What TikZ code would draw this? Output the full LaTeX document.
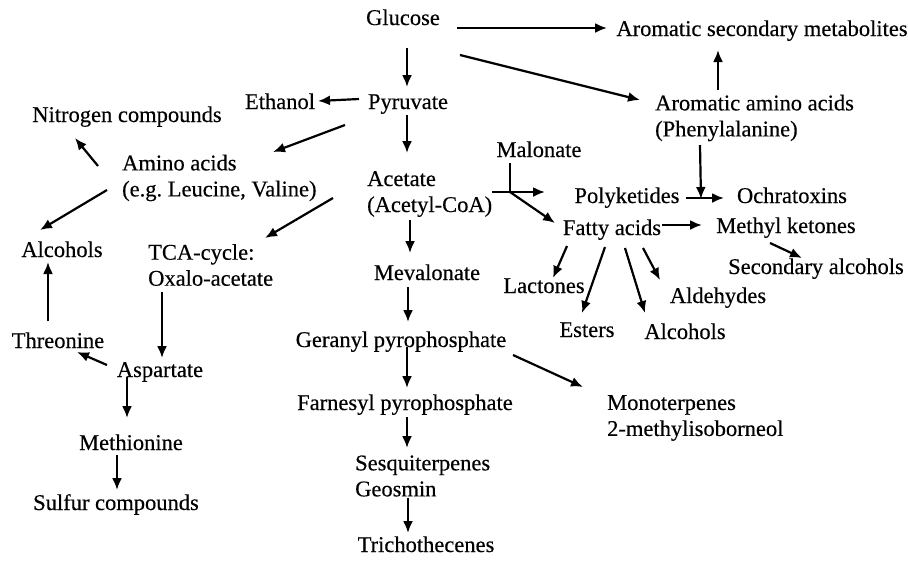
\documentclass[tikz,border=0pt]{standalone}
\usepackage{fontspec}
\setmainfont{Liberation Serif}[FakeBold=0.35]
\usetikzlibrary{arrows.meta}
\begin{document}
\frenchspacing
\begin{tikzpicture}[x=1pt,y=-1pt,
  lbl/.style={font=\fontsize{22.5}{26}\selectfont, inner sep=0pt, text height=15pt, text depth=5pt},
  ml/.style={font=\fontsize{22.5}{26}\selectfont, inner sep=0pt, align=left, anchor=west},
  arr/.style={line width=2.2pt, -{Latex[length=12pt,width=10pt]}},
  ln/.style={line width=2.2pt}]
\fill[white] (0,0) rectangle (908,563);
\useasboundingbox (0,0) rectangle (908,563);
% nodes
\node[lbl] (glu) at (403,20) {Glucose};
\node[lbl] (asm) at (762,31) {Aromatic secondary metabolites};
\node[lbl] (pyr) at (408,104) {Pyruvate};
\node[lbl] (eth) at (280,104) {Ethanol};
\node[lbl] (nit) at (127,117) {Nitrogen compounds};
\node[ml] (amino) at (122,178) {Amino acids\\(e.g.\ Leucine, Valine)};
\node[ml] (acet) at (367,194) {Acetate\\(Acetyl-CoA)};
\node[ml] (aaa) at (655,118) {Aromatic amino acids\\(Phenylalanine)};
\node[lbl] (mal) at (539,152) {Malonate};
\node[lbl] (poly) at (627,198) {Polyketides};
\node[lbl] (ochra) at (792,198) {Ochratoxins};
\node[lbl] (fatty) at (612,230) {Fatty acids};
\node[lbl] (mk) at (786,228) {Methyl ketones};
\node[lbl] (sa) at (816,269) {Secondary alcohols};
\node[lbl] (alcL) at (62,252) {Alcohols};
\node[ml] (tca) at (148,265) {TCA-cycle:\\Oxalo-acetate};
\node[lbl] (mev) at (427,275) {Mevalonate};
\node[lbl] (lact) at (544,288) {Lactones};
\node[lbl] (ald) at (718,298) {Aldehydes};
\node[lbl] (est) at (587,332) {Esters};
\node[lbl] (alcR) at (685,334) {Alcohols};
\node[lbl] (thr) at (58,343) {Threonine};
\node[lbl] (ger) at (401,342) {Geranyl pyrophosphate};
\node[lbl] (asp) at (160,372) {Aspartate};
\node[lbl] (far) at (405,405) {Farnesyl pyrophosphate};
\node[ml] (mono) at (607,418) {Monoterpenes\\2-methylisoborneol};
\node[lbl] (meth) at (131,445) {Methionine};
\node[ml] (sesq) at (355,476) {Sesquiterpenes\\Geosmin};
\node[lbl] (sulf) at (116,505) {Sulfur compounds};
\node[lbl] (tri) at (426,547) {Trichothecenes};
\coordinate (j1) at (510,192);
\coordinate (j2) at (701,199);
% connectors
\draw[arr] ([shift={(54,8)}]glu.center) -- ([shift={(-155,-3)}]asm.center);
\draw[arr] ([shift={(57,35)}]glu.center) -- ([shift={(-15,-18)}]aaa.west);
\draw[arr] ([shift={(4,28)}]glu.center) -- ([shift={(-1,-17)}]pyr.center);
\draw[arr] ([shift={(-49,-5)}]pyr.center) -- ([shift={(38,-3)}]eth.center);
\draw[arr] ([shift={(-63,21)}]pyr.center) -- ([shift={(151,-26)}]amino.west);
\draw[arr] ([shift={(-1,11)}]pyr.center) -- ([shift={(40,-41)}]acet.west);
\draw[arr] ([shift={(-24,-12)}]amino.west) -- ([shift={(-52,21)}]nit.center);
\draw[arr] ([shift={(-15,12)}]amino.west) -- ([shift={(-22,-22)}]alcL.center);
\draw[arr] ([shift={(-34,4)}]acet.west) -- ([shift={(117,-27)}]tca.west);
\draw[arr] ([shift={(43,26)}]acet.west) -- ([shift={(-17,-22)}]mev.center);
\draw[ln] ([shift={(-29,11)}]mal.center) -- (j1);
\draw[arr] ([shift={(125,-2)}]acet.west) -- ([shift={(-82,-6)}]poly.center);
\draw[arr] (j1) -- ([shift={(-57,-7)}]fatty.center);
\draw[arr] ([shift={(45,27)}]aaa.west) -- (j2);
\draw[arr] ([shift={(59,0)}]poly.center) -- ([shift={(-68,0)}]ochra.center);
\draw[arr] ([shift={(63,-28)}]aaa.west) -- ([shift={(-44,19)}]asm.center);
\draw[arr] ([shift={(50,-5)}]fatty.center) -- ([shift={(-84,-3)}]mk.center);
\draw[arr] ([shift={(-16,15)}]mk.center) -- ([shift={(-14,-11)}]sa.center);
\draw[arr] ([shift={(-45,16)}]fatty.center) -- ([shift={(9,-10)}]lact.center);
\draw[arr] ([shift={(-7,17)}]fatty.center) -- ([shift={(-5,-19)}]est.center);
\draw[arr] ([shift={(13,18)}]fatty.center) -- ([shift={(-40,-21)}]alcR.center);
\draw[arr] ([shift={(31,18)}]fatty.center) -- ([shift={(-58,-18)}]ald.center);
\draw[arr] ([shift={(-10,-22)}]thr.center) -- ([shift={(-14,10)}]alcL.center);
\draw[arr] ([shift={(14,27)}]tca.west) -- ([shift={(2,-14)}]asp.center);
\draw[arr] ([shift={(-53,-7)}]asp.center) -- ([shift={(19,9)}]thr.center);
\draw[arr] ([shift={(-33,5)}]asp.center) -- ([shift={(-4,-27)}]meth.center);
\draw[arr] ([shift={(-14,10)}]meth.center) -- ([shift={(1,-15)}]sulf.center);
\draw[arr] ([shift={(-19,12)}]mev.center) -- ([shift={(7,-20)}]ger.center);
\draw[arr] ([shift={(6,5)}]ger.center) -- ([shift={(2,-17)}]far.center);
\draw[arr] ([shift={(2,12)}]far.center) -- ([shift={(52,-28)}]sesq.west);
\draw[arr] ([shift={(53,22)}]sesq.west) -- ([shift={(-18,-14)}]tri.center);
\draw[arr] ([shift={(112,13)}]ger.center) -- ([shift={(-24,-31)}]mono.west);
\end{tikzpicture}
\end{document}
